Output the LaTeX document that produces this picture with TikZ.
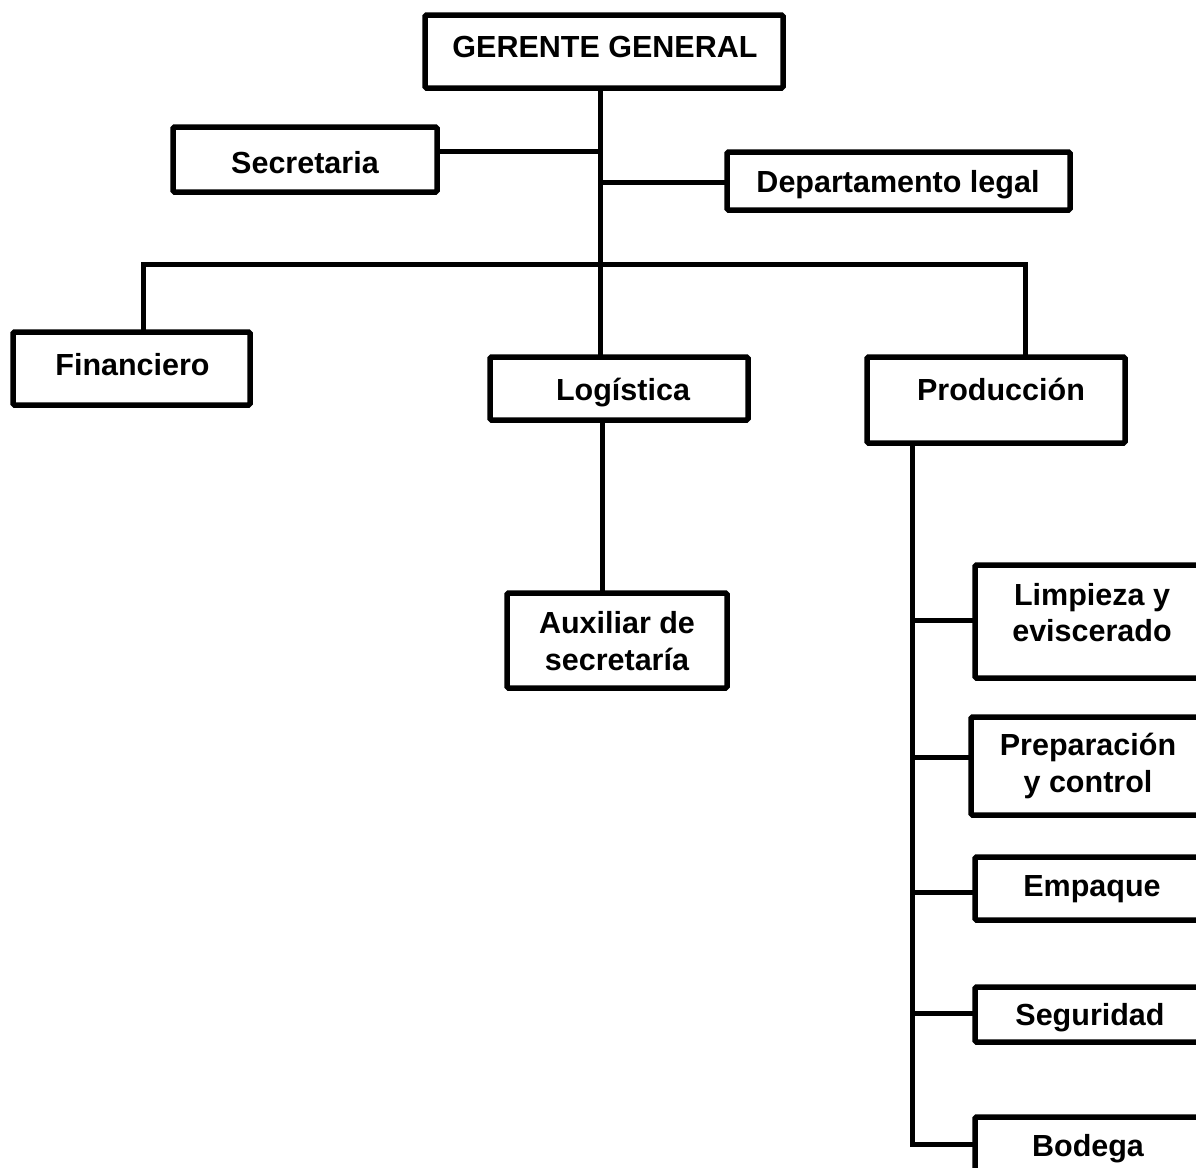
\documentclass[tikz,border=0pt]{standalone}
\usepackage{fontspec}
\setmainfont{Liberation Sans}
\begin{document}
\begin{tikzpicture}[x=1pt,y=-1pt,
  box/.style={draw, line width=5.5pt, rounded corners=1.5pt, inner sep=0pt, outer sep=0pt, fill=white},
  txt/.style={font=\bfseries\fontsize{30.5}{36}\selectfont, anchor=base, inner sep=0pt},
  conn/.style={line width=5pt}]
\useasboundingbox (0,0) rectangle (1196,1167);
\clip (0,0) rectangle (1196,1167);
\fill[white] (0,0) rectangle (1196,1167);
\coordinate (t) at (600,0);
\coordinate (p) at (912,0);
% boxes
\node[box, minimum width=358, minimum height=73] (ger) at (604,51.5) {};
\node[box, minimum width=264, minimum height=65] (sec) at (305,159.5) {};
\node[box, minimum width=343, minimum height=58] (dep) at (898.5,181) {};
\node[box, minimum width=237, minimum height=73] (fin) at (131.5,368.5) {};
\node[box, minimum width=258, minimum height=63] (log) at (619,388.5) {};
\node[box, minimum width=258, minimum height=86] (pro) at (996,400) {};
\node[box, minimum width=220, minimum height=95] (aux) at (617,640.5) {};
\node[box, minimum width=235, minimum height=113] (lim) at (1092.5,621.5) {};
\node[box, minimum width=234, minimum height=98] (pre) at (1088,766) {};
\node[box, minimum width=235, minimum height=63] (emp) at (1092.5,888.5) {};
\node[box, minimum width=235, minimum height=55] (seg) at (1092.5,1014.5) {};
\node[box, minimum width=235, minimum height=54] (bod) at (1092.5,1144) {};
% texts
\node[txt] (tger) at (605,57) {GERENTE GENERAL};
\node[txt] (tsec) at (305,173) {Secretaria};
\node[txt] (tdep) at (898,192) {Departamento legal};
\node[txt] (tfin) at (132.5,375) {Financiero};
\node[txt] (tlog) at (623,400) {Logística};
\node[txt] (tpro) at (1001,400) {Producción};
\node[txt] (taux1) at (617,633) {Auxiliar de};
\node[txt] (taux2) at (617,670) {secretaría};
\node[txt] (tlim1) at (1092,605) {Limpieza y};
\node[txt] (tlim2) at (1092,641) {eviscerado};
\node[txt] (tpre1) at (1088,755) {Preparación};
\node[txt] (tpre2) at (1088,792) {y control};
\node[txt] (temp) at (1092,896) {Empaque};
\node[txt] (tseg) at (1090,1025) {Seguridad};
\node[txt] (tbod) at (1088,1156) {Bodega};
% connectors
\draw[conn] (ger.south -| t) -- (log.north -| t);
\draw[conn] (sec.east |- 0,151) -- (t |- 0,151);
\draw[conn] (t |- 0,182) -- (dep.west |- 0,182);
\draw[conn] (fin.north -| 143,0) -- (143,264) -- (1025,264) -- (pro.north -| 1025,0);
\draw[conn] (log.south -| 602,0) -- (aux.north -| 602,0);
\draw[conn] (pro.south -| p) |- (bod.west);
\foreach \n/\yy in {lim/620, pre/757, emp/892, seg/1013}
  \draw[conn] (p |- 0,\yy) -- (\n.west |- 0,\yy);
\end{tikzpicture}
\end{document}
